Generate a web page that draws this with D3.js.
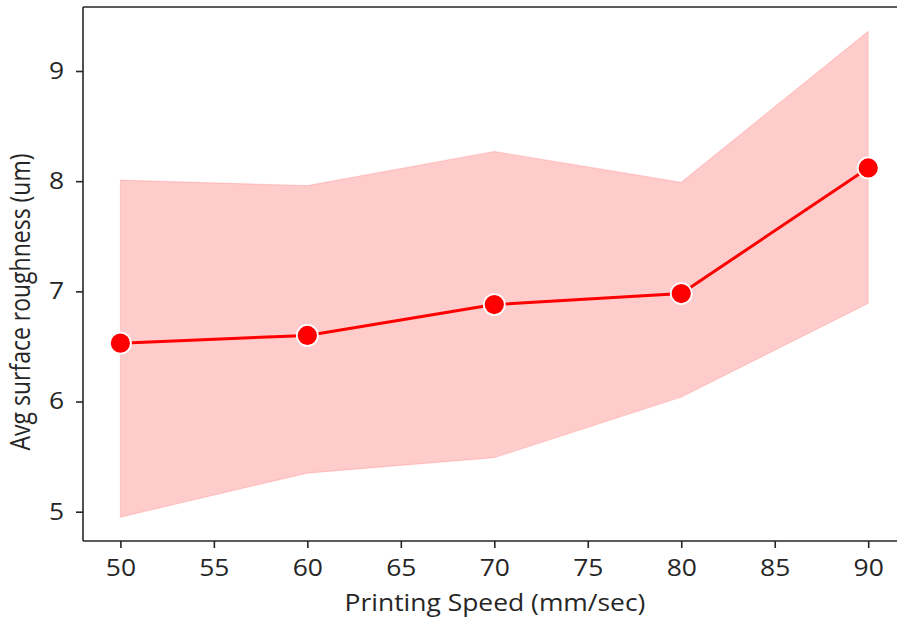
<!DOCTYPE html>
<html>
<head>
<meta charset="utf-8">
<script src="https://cdn.jsdelivr.net/npm/d3@7"></script>
<style>
  body { margin: 0; background: #fff; overflow: hidden; }
  .axis text { font-family: 'Open Sans', sans-serif; font-size: 23px; fill: #262626; }
  .axis path, .axis line { stroke: #262626; stroke-width: 1.6; }
  .label { font-family: 'Open Sans', sans-serif; font-size: 23px; fill: #262626; }
</style>
</head>
<body>
<div class="chart"></div>
<script>
const speeds = [50, 60, 70, 80, 90];
const meanRoughness = [6.53, 6.60, 6.88, 6.98, 8.12];
const upperCI = [8.01, 7.96, 8.27, 7.99, 9.36];
const lowerCI = [4.95, 5.35, 5.49, 6.04, 6.89];
const xTicks = [50, 55, 60, 65, 70, 75, 80, 85, 90];
const yTicks = [5, 6, 7, 8, 9];

const data = speeds.map((s, i) => ({
  speed: s,
  mean: meanRoughness[i],
  lo: lowerCI[i],
  hi: upperCI[i]
}));

const margin = { top: 7, right: 0, bottom: 80, left: 83 };
const width = 897;
const height = 621;
const plotW = 822.6; // right spine sits just outside the picture
const plotH = 541 - margin.top;
const stretch = 1.15; // the source picture is stretched sideways

const svg = d3
  .select('.chart')
  .append('svg')
  .attr('width', width)
  .attr('height', height);

const group = svg
  .append('g')
  .attr('transform', 'translate(' + margin.left + ',' + margin.top + ')');

const xScale = d3.scaleLinear().domain([48, 92]).range([0, plotW]);
const yScale = d3.scaleLinear().domain([4.734, 9.581]).range([plotH, 0]);

// confidence band
const area = d3
  .area()
  .x((d) => xScale(d.speed))
  .y0((d) => yScale(d.lo))
  .y1((d) => yScale(d.hi));

group
  .append('path')
  .datum(data)
  .attr('d', area)
  .attr('fill', '#ff0000')
  .attr('fill-opacity', 0.2)
  .attr('stroke', '#ff0000')
  .attr('stroke-opacity', 0.12)
  .attr('stroke-width', 1.2);

// mean line
const line = d3
  .line()
  .x((d) => xScale(d.speed))
  .y((d) => yScale(d.mean));

group
  .append('path')
  .datum(data)
  .attr('d', line)
  .attr('fill', 'none')
  .attr('stroke', '#ff0000')
  .attr('stroke-width', 3);

group
  .selectAll('circle')
  .data(data)
  .join('circle')
  .attr('cx', (d) => xScale(d.speed))
  .attr('cy', (d) => yScale(d.mean))
  .attr('r', 10.5)
  .attr('fill', '#ff0000')
  .attr('stroke', '#fff')
  .attr('stroke-width', 1.8);

// top spine
group
  .append('line')
  .attr('x1', 0)
  .attr('x2', plotW)
  .attr('y1', 0)
  .attr('y2', 0)
  .attr('stroke', '#262626')
  .attr('stroke-width', 1.6);

// x axis
const xAxis = d3.axisBottom(xScale).tickValues(xTicks).tickSize(7).tickPadding(12);
group
  .append('g')
  .attr('class', 'axis x-axis')
  .attr('transform', `translate(0, ${plotH})`)
  .call(xAxis);
group.selectAll('.x-axis .tick text').attr('transform', `scale(${stretch},1)`);

// y axis
const yAxis = d3
  .axisLeft(yScale)
  .tickValues(yTicks)
  .tickFormat(d3.format('d'))
  .tickSize(7)
  .tickPadding(12);
group.append('g').attr('class', 'axis y-axis').call(yAxis);
group
  .selectAll('.y-axis .tick text')
  .attr('x', -19 / stretch)
  .attr('transform', `scale(${stretch},1)`);

group.selectAll('.axis .domain').attr('d', function () {
  return d3.select(this.parentNode).classed('x-axis')
    ? `M0,0H${plotW}`
    : `M0,0V${plotH}`;
});

// axis titles
svg
  .append('text')
  .attr('class', 'label')
  .attr('transform', `translate(495, 611) scale(${stretch},1)`)
  .attr('text-anchor', 'middle')
  .text('Printing Speed (mm/sec)');

svg
  .append('text')
  .attr('class', 'label')
  .attr('transform', `translate(30, 302) scale(${stretch},1) rotate(-90)`)
  .attr('text-anchor', 'middle')
  .text('Avg surface roughness (um)');
</script>
</body>
</html>
